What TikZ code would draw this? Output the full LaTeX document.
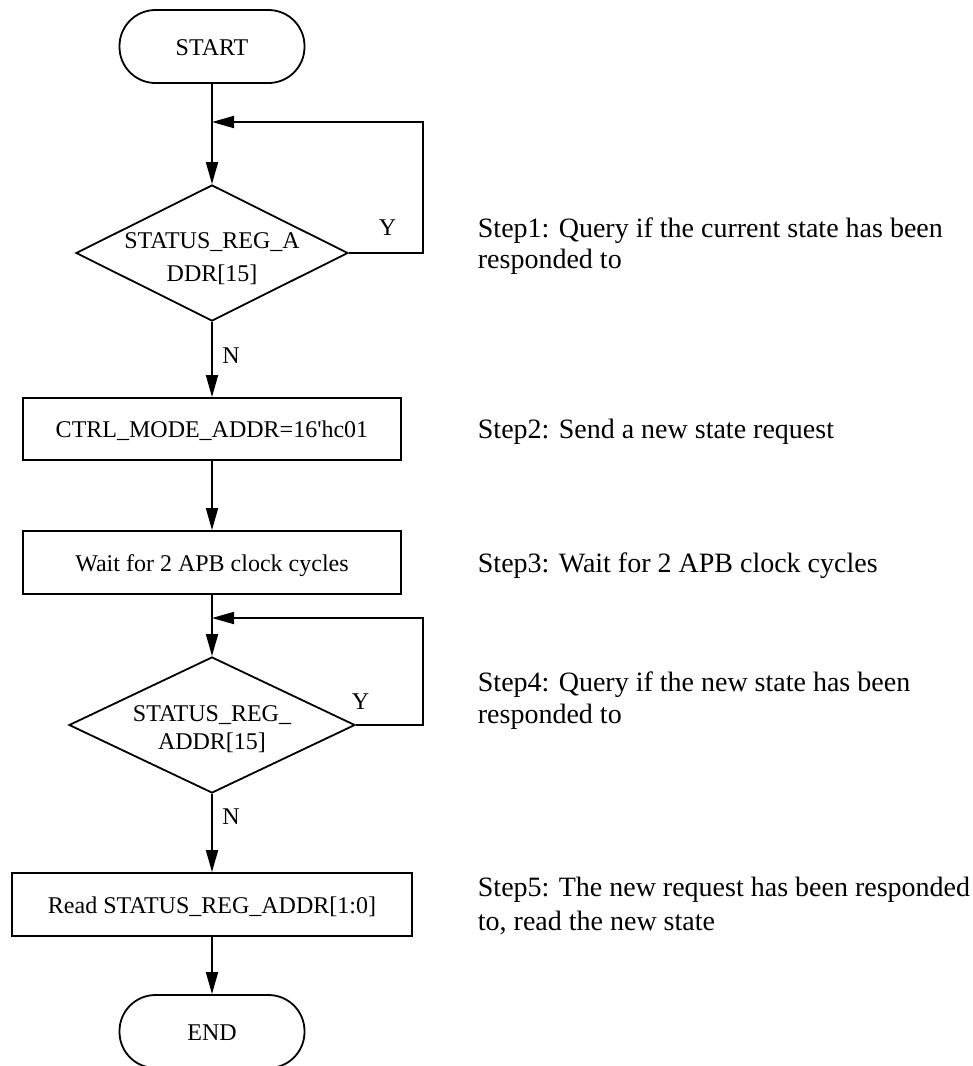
\documentclass[tikz,border=0pt]{standalone}
\usepackage{fontspec}
\setmainfont{Liberation Serif}
\usetikzlibrary{arrows.meta,shapes.geometric}
\begin{document}
\begin{tikzpicture}[x=1pt,y=-1pt, line width=1.8pt,
  every node/.style={font=\fontsize{24}{28}\selectfont},
  term/.style={draw, rectangle, rounded corners=36pt, minimum width=185pt, minimum height=73pt, text height=17pt, text depth=0pt, inner sep=0pt},
  proc/.style={draw, rectangle, minimum height=62pt, text height=17pt, text depth=0pt, inner sep=0pt},
  dia/.style={draw, diamond, inner sep=0pt},
  dtext/.style={anchor=north, align=center, inner sep=0pt},
  arr/.style={-{Triangle[length=22pt,width=12pt]}},
  lbl/.style={anchor=base, inner sep=0pt},
  steptxt/.style={align=left, inner sep=0pt}]
\path[use as bounding box, fill=white] (0,0) rectangle (973,1066);

\node[term] (start) at (212,46.5) {START};
\node[dia, minimum width=272pt, minimum height=136pt] (d1) at (212,253) {};
\node[dtext, font=\fontsize{24}{33}\selectfont] (d1t) at (212,232) {STATUS\_REG\_A\\DDR[15]};
\node[proc, minimum width=378pt] (b1) at (212,429) {CTRL\_MODE\_ADDR=16\textquotesingle hc01};
\node[proc, minimum width=378pt, minimum height=63pt] (b2) at (212,562.5) {Wait for 2 APB clock cycles};
\node[dia, minimum width=286pt, minimum height=136pt] (d2) at (212,725) {};
\node[dtext, font=\fontsize{24}{28}\selectfont] (d2t) at (212,705) {STATUS\_REG\_\\ADDR[15]};
\node[proc, minimum width=400pt, minimum height=63pt] (b3) at (212,904.5) {Read STATUS\_REG\_ADDR[1:0]};
\node[term] (stop) at (212,1031.5) {END};

\coordinate (j1) at (212,122);
\coordinate (r1) at (423,122);
\coordinate (j2) at (212,618);
\coordinate (r2) at (423,618);

\draw[arr] (start) -- (d1);
\draw[arr] (d1.east) -| (r1) -- (j1);
\draw[arr] (d1) -- (b1);
\draw[arr] (b1) -- (b2);
\draw[arr] (b2) -- (d2);
\draw[arr] (d2.east) -| (r2) -- (j2);
\draw[arr] (d2) -- (b3);
\draw[arr] (b3) -- (stop);

\node[lbl] (n1) at (231,363) {N};
\node[lbl] (y1) at (387.5,235) {Y};
\node[lbl] (y2) at (360.5,709) {Y};
\node[lbl] (n2) at (231,824) {N};

\node[steptxt, anchor=north west, font=\fontsize{28}{31}\selectfont] (s1) at (477,217) {Step1: Query if the current state has been\\responded to};
\node[steptxt, anchor=base west, font=\fontsize{28}{31}\selectfont] (s2) at (477,438) {Step2: Send a new state request};
\node[steptxt, anchor=base west, font=\fontsize{28}{31}\selectfont] (s3) at (477,572) {Step3: Wait for 2 APB clock cycles};
\node[steptxt, anchor=north west, font=\fontsize{28}{32}\selectfont] (s4) at (477,671) {Step4: Query if the new state has been\\responded to};
\node[steptxt, anchor=north west, font=\fontsize{28}{34}\selectfont] (s5) at (477,876) {Step5: The new request has been responded\\to, read the new state};
\end{tikzpicture}
\end{document}
